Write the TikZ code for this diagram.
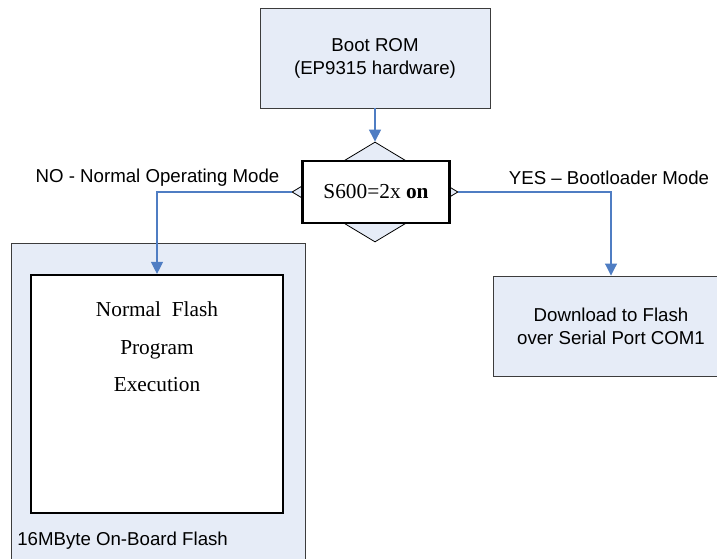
\documentclass[tikz,border=0pt]{standalone}
\usepackage{fontspec}
\setmainfont{Liberation Serif}
\setsansfont{Liberation Sans}
\usetikzlibrary{shapes.geometric,arrows.meta}
\definecolor{boxfill}{RGB}{230,236,247}
\definecolor{boxline}{RGB}{60,60,60}
\definecolor{arrowblue}{RGB}{79,125,195}
\tikzset{
  lightbox/.style={draw=boxline, fill=boxfill, line width=0.7pt, inner sep=0pt, rectangle},
  whitebox/.style={draw=black, fill=white, line width=1.6pt, inner sep=0pt, rectangle},
  sanstext/.style={font=\sffamily\fontsize{14}{17.25}\selectfont},
  seriftext/.style={font=\rmfamily\fontsize{16}{28}\selectfont},
  flow/.style={draw=arrowblue, line width=0.8pt, -{Triangle[length=9pt,width=9pt]}},
}
\begin{document}
\begin{tikzpicture}[x=0.75pt,y=-0.75pt]
\useasboundingbox (0,0) rectangle (717,559);
\fill[white] (0,0) rectangle (717,559);
\clip (0,0) rectangle (717,559);
% Boot ROM
\node[lightbox, sanstext, minimum width=172.5pt, minimum height=75pt, align=center] (boot) at (375,58) {Boot ROM\\(EP9315 hardware)};
% decision
\node[diamond, draw=black, fill=boxfill, line width=0.6pt, inner sep=0pt, minimum width=124.5pt, minimum height=75pt] (dia) at (375,192) {};
\node[whitebox, seriftext, minimum width=110.25pt, minimum height=46.5pt] (cond) at (376,192) {S600=2x \textbf{on}};
% outer flash box
\node[lightbox, minimum width=220.5pt, minimum height=267.75pt] (flash) at (158,421.5) {};
\node[whitebox, minimum width=189pt, minimum height=178.5pt] (inner) at (157,394) {};
\node[seriftext, align=center, inner sep=0pt] (innertext) at (157,347) {Normal\ \ Flash\\Program\\Execution};
\node[sanstext, anchor=west, inner sep=0pt] (flashlabel) at (17,541) {16MByte On-Board Flash};
% download box
\node[lightbox, sanstext, minimum width=177pt, minimum height=75pt, align=center] (down) at (611,326) {Download to Flash\\over Serial Port COM1};
% labels
\node[sanstext, inner sep=0pt] (nolabel) at (157.5,178) {NO - Normal Operating Mode};
\node[sanstext, inner sep=0pt] (yeslabel) at (609,178) {YES -- Bootloader Mode};
% connectors
\draw[flow] (boot.south) -- (dia.north);
\draw[flow] (dia.west) -| (inner.north);
\draw[flow] (dia.east) -| (down.north);
\end{tikzpicture}
\end{document}
